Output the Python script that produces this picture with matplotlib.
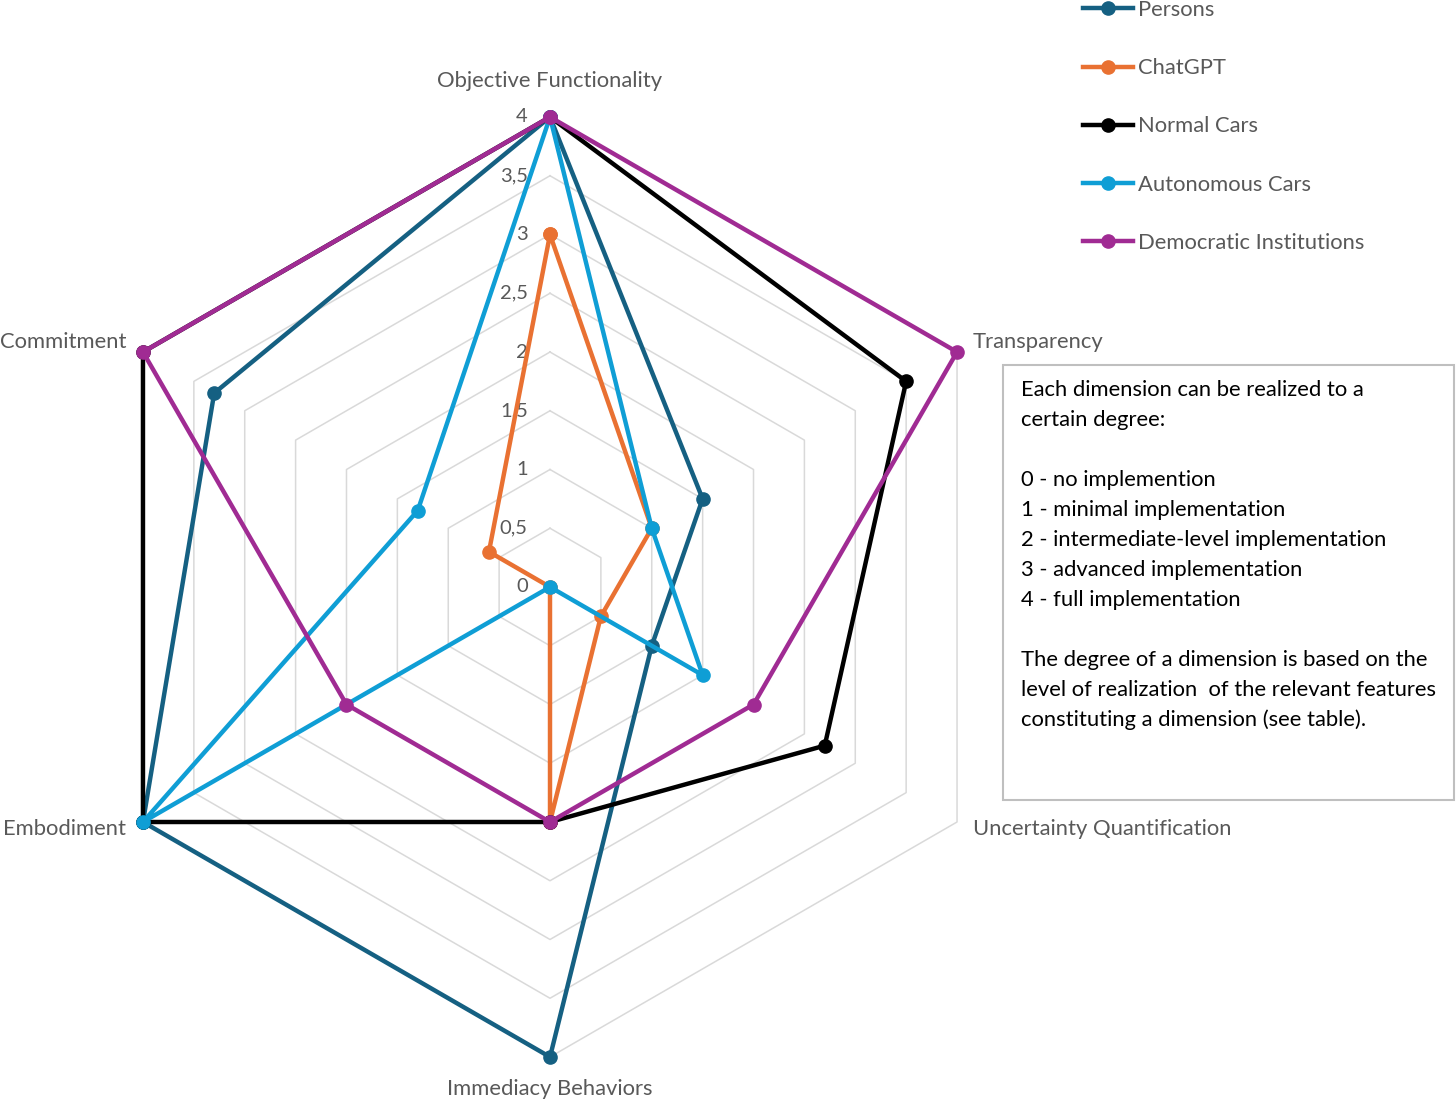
import numpy as np
import matplotlib.pyplot as plt
from matplotlib.lines import Line2D
from matplotlib.patches import Rectangle

plt.rcParams['font.family'] = ['Lato', 'DejaVu Sans']

# data
dimensions = ['Objective Functionality', 'Transparency', 'Uncertainty Quantification',
              'Immediacy Behaviors', 'Embodiment', 'Commitment']
series_names = ['Persons', 'ChatGPT', 'Normal Cars', 'Autonomous Cars', 'Democratic Institutions']
persons = [4, 1.5, 1, 4, 4, 3.3]
chatgpt = [3, 1, 0.5, 2, 0, 0.6]
normal_cars = [4, 3.5, 2.7, 2, 4, 4]
autonomous_cars = [4, 1, 1.5, 0, 4, 1.3]
democratic = [4, 4, 2, 2, 2, 4]
ring_values = [0.5, 1, 1.5, 2, 2.5, 3, 3.5, 4]
tick_values = [0, 0.5, 1, 1.5, 2, 2.5, 3, 3.5, 4]
tick_labels = ['0', '0,5', '1', '1,5', '2', '2,5', '3', '3,5', '4']
note_lines = [
    'Each dimension can be realized to a',
    'certain degree:',
    '',
    '0 - no implemention',
    '1 - minimal implementation',
    '2 - intermediate-level implementation',
    '3 - advanced implementation',
    '4 - full implementation',
    '',
    'The degree of a dimension is based on the',
    'level of realization  of the relevant features',
    'constituting a dimension (see table).',
]

colors = ['#156082', '#E97132', '#000000', '#0F9ED5', '#A02B93']
gray_text = '#595959'
fs = 15.8

W, H = 1456, 1102
fig = plt.figure(figsize=(W / 100, H / 100), dpi=100)
ax = fig.add_axes([80 / W, 45 / H, 940 / W, 940 / H], projection='polar')
ax.set_theta_offset(np.pi / 2)
ax.set_theta_direction(-1)
ax.set_ylim(0, 4)
ax.set_axis_off()

angles = np.arange(len(dimensions)) * 2 * np.pi / len(dimensions)
closed = np.append(angles, angles[0])

# hexagonal gridlines
for v in ring_values:
    ax.plot(closed, [v] * len(closed), color='#D9D9D9', lw=1.1, zorder=1, clip_on=False)

# value labels on the top axis
for v, lab in zip(tick_values, tick_labels):
    ax.annotate(lab, xy=(0, v), xytext=(-16, 0), textcoords='offset points',
                ha='right', va='center', fontsize=14.5, color=gray_text)

# category labels
offsets = [(0, 26, 'center'), (11.5, 7, 'left'), (11.5, -5, 'left'),
           (0, -23, 'center'), (-12, -5, 'right'), (-12, 7, 'right')]
for a, name, (dx, dy, ha) in zip(angles, dimensions, offsets):
    ax.annotate(name, xy=(a, 4), xytext=(dx, dy), textcoords='offset points',
                ha=ha, va='center', fontsize=fs, color=gray_text)

all_series = [persons, chatgpt, normal_cars, autonomous_cars, democratic]
for i, (vals, c) in enumerate(zip(all_series, colors)):
    ax.plot(closed, vals + vals[:1], color=c, lw=3.2, marker='o', markersize=9.5,
            zorder=3 + i, clip_on=False)

handles = [Line2D([], [], color=c, lw=3.2, marker='o', markersize=9.5) for c in colors]
fig.legend(handles, series_names, loc='upper left', bbox_to_anchor=(1083 / W, 1.0),
           frameon=False, fontsize=fs, labelcolor=gray_text, handlelength=2.28,
           handletextpad=0.23, labelspacing=1.74, borderpad=0, borderaxespad=0)

# explanation box
fig.add_artist(Rectangle((1003 / W, 1 - 800 / H), 451 / W, 435 / H, fill=False,
                         edgecolor='#BFBFBF', lw=1.5, transform=fig.transFigure))
for i, line in enumerate(note_lines):
    fig.text(1021 / W, 1 - (390 + 30 * i) / H, line, ha='left', va='center',
             fontsize=fs, color='black')

fig.savefig('out.png', dpi=100)
